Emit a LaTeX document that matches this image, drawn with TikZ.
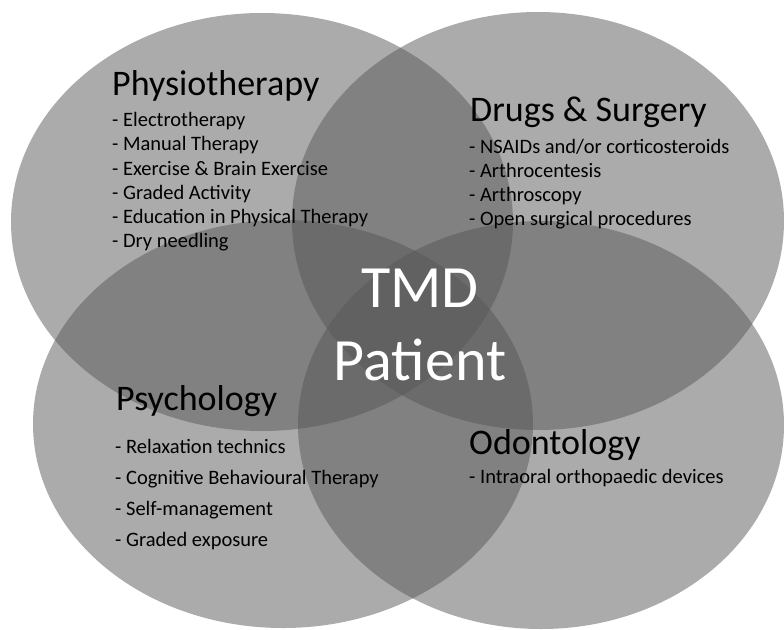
\documentclass[tikz,border=0pt]{standalone}
\usepackage{fontspec}
\setmainfont{Carlito}

\begin{document}
\begin{tikzpicture}[x=1pt,y=-1pt,
  area/.style={fill=black!66,fill opacity=.5},
  heading/.style={anchor=base west,inner sep=0pt,font=\fontsize{36}{43}\selectfont},
  item/.style={anchor=base west,inner sep=0pt,font=\fontsize{20.5}{24}\selectfont},
  patient/.style={anchor=base,inner sep=0pt,text=white,font=\fontsize{60}{72}\selectfont}]

\useasboundingbox (0,0) rectangle (784,629);

% the four fields
\fill[area] (262,222) ellipse [x radius=251pt, y radius=209pt];
\fill[area] (538,221) ellipse [x radius=246pt, y radius=209pt];
\fill[area] (283,424) ellipse [x radius=250pt, y radius=204pt];
\fill[area] (541,425) ellipse [x radius=243pt, y radius=204pt];

% physiotherapy
\node[heading] (physio) at (112,95) {Physiotherapy};
\node[item] (electro) at (112,126) {- Electrotherapy};
\node[item] (manual) at (112,150.5) {- Manual Therapy};
\node[item] (exercise) at (112,175) {- Exercise \& Brain Exercise};
\node[item] (graded) at (112,199) {- Graded Activity};
\node[item] (education) at (112,223) {- Education in Physical Therapy};
\node[item] (needling) at (112,247.5) {- Dry needling};

% drugs and surgery
\node[heading] (drugs) at (470,121) {Drugs \& Surgery};
\node[item] (nsaids) at (469,153) {- NSAIDs and/or corticosteroids};
\node[item] (centesis) at (469,177) {- Arthrocentesis};
\node[item] (scopy) at (469,201) {- Arthroscopy};
\node[item] (surgical) at (469,225) {- Open surgical procedures};

% psychology
\node[heading] (psych) at (116,410) {Psychology};
\node[item] (relax) at (115,453) {- Relaxation technics};
\node[item] (cbt) at (115,484) {- Cognitive Behavioural Therapy};
\node[item] (selfman) at (115,515) {- Self-management};
\node[item] (exposure) at (115,546) {- Graded exposure};

% odontology
\node[heading] (odonto) at (469,454) {Odontology};
\node[item] (intraoral) at (469,483) {- Intraoral orthopaedic devices};

% centre
\node[patient] (tmd) at (420,307) {TMD};
\node[patient] (pat) at (420,380) {Patient};
\end{tikzpicture}
\end{document}
